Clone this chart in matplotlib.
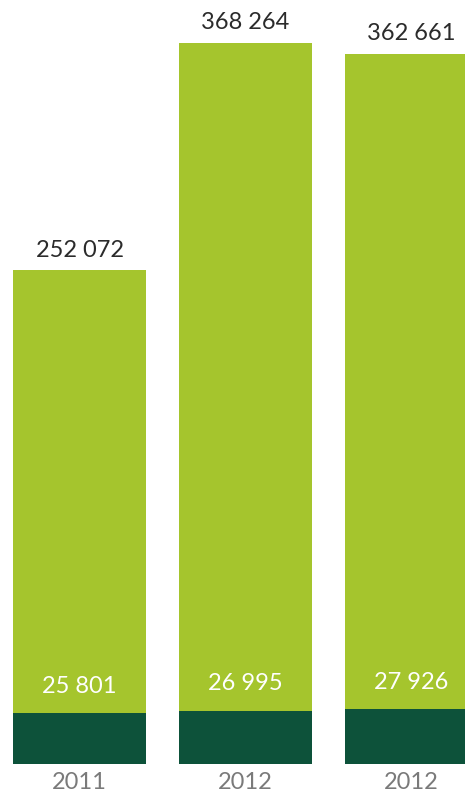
import numpy as np
import matplotlib.pyplot as plt

plt.rcParams['font.family'] = ['Lato', 'DejaVu Sans']

# Data
years = ['2011', '2012', '2012']
totals = [252072, 368264, 362661]
bottoms = [25801, 26995, 27926]

def fmt(v):
    return '{:,}'.format(v).replace(',', ' ')

light = '#a5c52d'
dark = '#0d523a'

fig = plt.figure(figsize=(4.65, 7.94), dpi=100)
ax = fig.add_axes([0, 30 / 794, 1, 764 / 794])

x = np.arange(len(years))
w = 133 / 166
ax.bar(x, totals, width=w, color=light, zorder=1)
ax.bar(x, bottoms, width=w, color=dark, zorder=2)

for i in range(len(years)):
    ax.annotate(fmt(totals[i]), (x[i], totals[i]), xytext=(0, 7), textcoords='offset points',
                ha='center', va='bottom', fontsize=17, color='#2b2b2b')
    ax.annotate(fmt(bottoms[i]), (x[i], bottoms[i]), xytext=(0, 12), textcoords='offset points',
                ha='center', va='bottom', fontsize=17, color='white')

ax.set_xticks(x)
ax.set_xticklabels(years, fontsize=17, color='#7a7a7a')
ax.tick_params(axis='x', length=0, pad=6)
ax.set_yticks([])
for s in ax.spines.values():
    s.set_visible(False)

ax.set_xlim(-79.5 / 166, 2 + 53.5 / 166)
ax.set_ylim(0, 368264 * 764 / 721)

fig.savefig('out.png', dpi=100)
